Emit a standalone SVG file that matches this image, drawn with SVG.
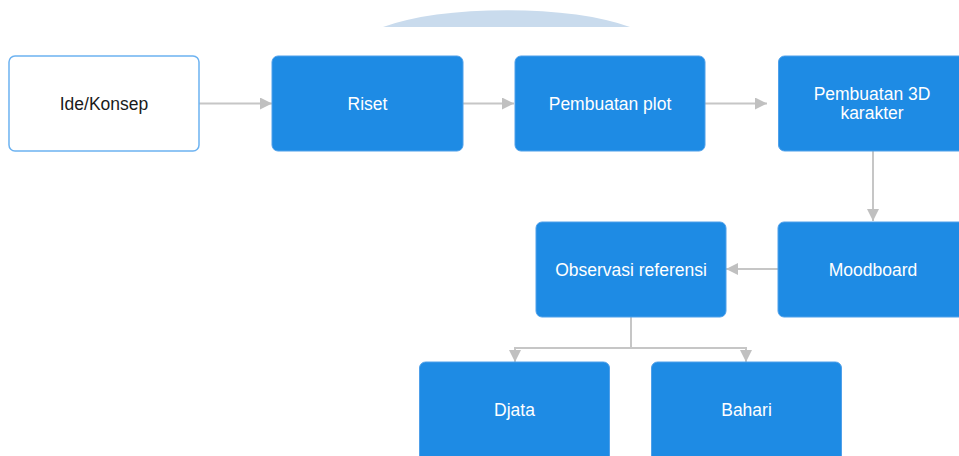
<svg xmlns="http://www.w3.org/2000/svg" width="959" height="456" viewBox="0 0 959 456">
  <style>
    .box { fill: #1e8be4; stroke: #4fa0ea; stroke-width: 1; }
    .box-open { fill: #ffffff; stroke: #6cb2f1; stroke-width: 1.5; }
    .label { font-family: "Liberation Sans", Arial, sans-serif; font-size: 17.5px; fill: #ffffff; text-anchor: middle; }
    .label-dark { fill: #1a1a1a; }
    .edge { fill: none; stroke: #c6c6c6; stroke-width: 2; }
  </style>
  <defs>
    <marker id="arrow" viewBox="0 0 12 12" refX="12" refY="6" markerWidth="12" markerHeight="12" markerUnits="userSpaceOnUse" orient="auto">
      <path d="M0,0 L12,6 L0,12 Z" fill="#c0c0c0"/>
    </marker>
  </defs>

  <rect width="959" height="456" fill="#ffffff"/>

  <!-- decorative cap at the top -->
  <path d="M383,27 A150,39 0 0 1 630,27 Z" fill="#c9dbed"/>

  <!-- connectors -->
  <g id="connectors">
    <path class="edge" d="M199,103.5 H272" marker-end="url(#arrow)"/>
    <path class="edge" d="M463,103.5 H514" marker-end="url(#arrow)"/>
    <path class="edge" d="M705,103.5 H767" marker-end="url(#arrow)"/>
    <path class="edge" d="M873,151 V221" marker-end="url(#arrow)"/>
    <path class="edge" d="M778,269 H726" marker-end="url(#arrow)"/>
    <path class="edge" d="M631,317 V348"/>
    <path class="edge" d="M631,348 H515 V362" marker-end="url(#arrow)"/>
    <path class="edge" d="M631,348 H746 V362" marker-end="url(#arrow)"/>
  </g>

  <g id="node-ide">
    <rect class="box-open" x="9" y="56" width="190" height="95" rx="6"/>
    <text class="label label-dark" x="104" y="109.5">Ide/Konsep</text>
  </g>
  <g id="node-riset">
    <rect class="box" x="272" y="56" width="191" height="95" rx="6"/>
    <text class="label" x="367.5" y="109.5">Riset</text>
  </g>
  <g id="node-plot">
    <rect class="box" x="515" y="56" width="190" height="95" rx="6"/>
    <text class="label" x="610" y="109.5">Pembuatan plot</text>
  </g>
  <g id="node-karakter">
    <rect class="box" x="778.5" y="56" width="190" height="95" rx="6"/>
    <text class="label" x="872" y="100">Pembuatan 3D</text>
    <text class="label" x="872" y="119.3">karakter</text>
  </g>
  <g id="node-moodboard">
    <rect class="box" x="778" y="222" width="190" height="95" rx="6"/>
    <text class="label" x="873" y="276">Moodboard</text>
  </g>
  <g id="node-observasi">
    <rect class="box" x="536" y="222" width="190" height="95" rx="6"/>
    <text class="label" x="631" y="276">Observasi referensi</text>
  </g>
  <g id="node-djata">
    <rect class="box" x="419.5" y="362" width="190" height="100" rx="6"/>
    <text class="label" x="514.5" y="416">Djata</text>
  </g>
  <g id="node-bahari">
    <rect class="box" x="651.5" y="362" width="190" height="100" rx="6"/>
    <text class="label" x="746.5" y="416">Bahari</text>
  </g>
</svg>
